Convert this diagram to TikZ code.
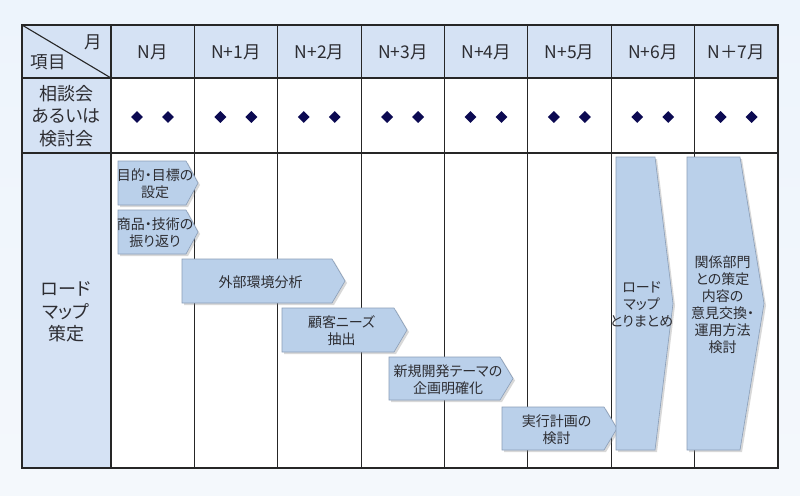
\documentclass[tikz,border=0pt]{standalone}
\usepackage{fontspec}
\setmainfont{Noto Sans CJK JP}[RawFeature=+palt]
\usetikzlibrary{shapes.geometric,shadows}
\definecolor{paper}{RGB}{237,244,252}
\definecolor{paperlow}{RGB}{244,248,252}
\definecolor{headfill}{RGB}{213,226,244}
\definecolor{stepfill}{RGB}{186,208,234}
\definecolor{stepline}{RGB}{138,158,184}
\definecolor{navy}{RGB}{12,10,82}
\definecolor{ink}{RGB}{45,45,50}
\tikzset{
  grid/.style={draw=black!85,line width=1.1pt},
  head/.style={font=\fontsize{17.5}{20}\selectfont,text=ink,inner sep=0pt},
  rowlabel/.style={font=\fontsize{18}{22.5}\selectfont,text=ink,align=center,inner sep=0pt},
  stepbox/.style={fill=stepfill,draw=stepline,line width=0.6pt,
    drop shadow={opacity=0.3,shadow xshift=2pt,shadow yshift=-2pt}},
  steptext/.style={font=\fontsize{14}{17}\selectfont,text=ink,align=center,inner sep=0pt},
  meeting/.style={diamond,fill=navy,inner sep=0pt,minimum size=12pt},
}

\begin{document}
\begin{tikzpicture}[x=1pt,y=-1pt]
  \shade[top color=paper,bottom color=paperlow] (0,0) rectangle (800,495);
  \useasboundingbox (0,0) rectangle (800,495);

  % table cells
  \fill[headfill] (22,25) rectangle (778,78);
  \fill[headfill] (22,78) rectangle (111,468);
  \fill[white] (111,78) rectangle (778,468);
  \draw[grid] (22,25) rectangle (778,468);
  \draw[grid] (22,78) -- (778,78) (22,153) -- (778,153);
  \foreach \m in {0,...,7}
    \draw[grid] ({111+83.375*\m},25) -- ({111+83.375*\m},468);
  \draw[black!85,line width=1.1pt] (22,25) -- (111,78);

  % header
  \node[head] (corner month) at (93,42) {月};
  \node[head] (corner item) at (48,62) {項目};
  \foreach \lab [count=\i from 0] in {N月,N+1月,N+2月,N+3月,N+4月,N+5月,N+6月,N＋7月}
    \node[head] (month\i) at ({111+83.375*\i+41.7},52) {\lab};

  % row labels
  \node[rowlabel] (meetings) at (66,116) {相談会\\あるいは\\検討会};
  \node[rowlabel] (roadmap) at (66,312) {ロード\\マップ\\策定};

  % meetings
  \foreach \m in {0,...,7} {
    \node[meeting] (mA\m) at ({111+83.375*\m+26},117) {};
    \node[meeting] (mB\m) at ({111+83.375*\m+57},117) {};
  }

  % roadmap steps
  \foreach \xa/\xb/\xc/\ya/\yb/\txt [count=\i] in {
      118/186/198/161/205/{目的・目標の\\設定},
      118/186/198/210/254/{商品・技術の\\振り返り},
      182/332/345/259/303/{外部環境分析},
      282/394/407/308/352/{顧客ニーズ\\抽出},
      389/500/513/357/400/{新規開発テーマの\\企画明確化},
      502/604/617/407/450/{実行計画の\\検討},
      616/655/673/157/450/{ロード\\マップ\\とりまとめ},
      687/740/764/157/450/{関係部門\\との策定\\内容の\\意見交換・\\運用方法\\検討}} {
    \draw[stepbox] (\xa,\ya) -- (\xb,\ya) -- (\xc,{(\ya+\yb)/2}) -- (\xb,\yb) -- (\xa,\yb) -- cycle;
    \node[steptext] (step\i) at ({(\xa+\xc)/2-3},{(\ya+\yb)/2+1}) {\txt};
  }
\end{tikzpicture}
\end{document}
